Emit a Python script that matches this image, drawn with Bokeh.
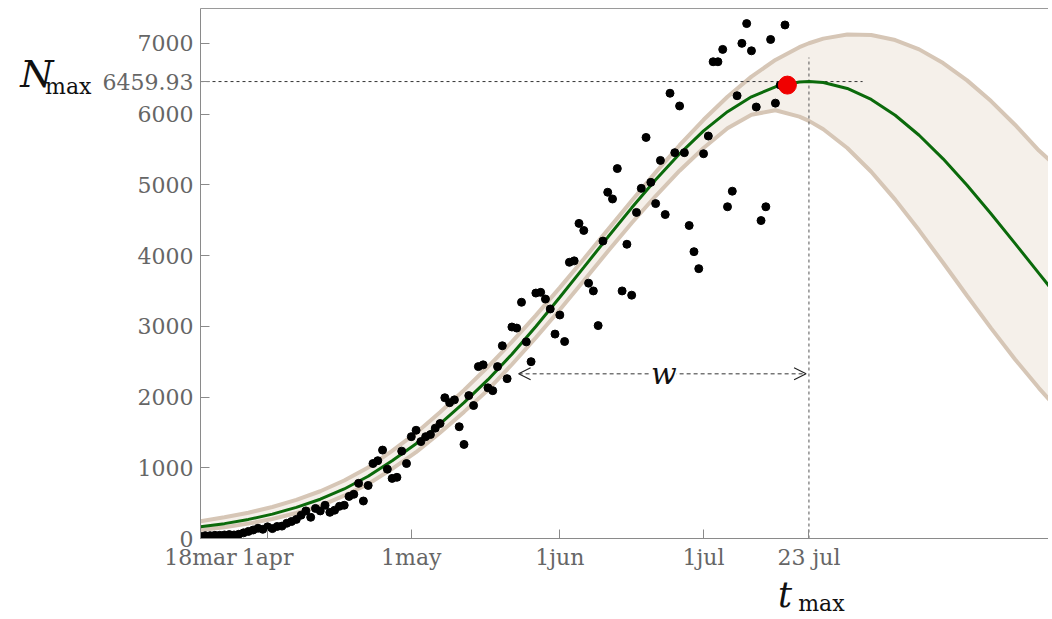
from bokeh.plotting import figure
from bokeh.models import FixedTicker, Label, Arrow, OpenHead, LinearAxis
from bokeh.embed import file_html
from bokeh.resources import INLINE

# ---------------- data ----------------
# observed daily cases, day 0 = 18 mar
obs_days = list(range(0, 123))
cases = [30, 40, 40, 45, 45, 50, 55, 50, 60, 80, 100, 120, 145, 130, 165, 140, 170, 175, 215, 240, 270, 330,
         390, 300, 425, 390, 470, 370, 400, 455, 470, 595,
         625, 780, 530, 750, 1060, 1100, 1250, 980, 850, 865,
         1235, 1060, 1440, 1530, 1370, 1440, 1470, 1560, 1625, 1990,
         1920, 1960, 1580, 1330, 2020, 1880, 2430, 2455, 2130, 2090,
         2430, 2725, 2260, 2990, 2975, 3340, 2780, 2500, 3470, 3480,
         3385, 3245, 2890, 3160, 2785, 3905, 3925, 4455, 4355, 3610,
         3500, 3010, 4205, 4895, 4800, 5230, 3500, 4160, 3440, 4610,
         4950, 5670, 5035, 4735, 5345, 4580, 6295, 5455, 6115, 5455,
         4425, 4055, 3815, 5440, 5690, 6740, 6740, 6915, 4690, 4910,
         6260, 7000, 7280, 6895, 6100, 4495, 4690, 7055, 6155, 6410,
         7260]

# fitted curve and confidence band
model_days = [0, 5, 10, 15, 20, 25, 30, 35, 40, 45, 50, 55, 60, 65, 70, 75, 80, 85, 90, 95,
              100, 105, 110, 115, 120, 125, 127, 130, 135, 140, 145, 150, 155, 160, 165, 170, 175, 178]
fit = [165, 210, 270, 345, 440, 555, 700, 880, 1100, 1340, 1620, 1920, 2245, 2605, 2998, 3410, 3833, 4258, 4675, 5072,
       5438, 5762, 6034, 6244, 6386, 6454, 6460, 6446, 6363, 6207, 5984, 5701, 5368, 4994, 4592, 4173, 3748, 3494]
upper = [245, 300, 365, 445, 545, 668, 820, 1004, 1240, 1493, 1785, 2098, 2428, 2781, 3155, 3547, 3952, 4363, 4774, 5176,
         5560, 5920, 6246, 6530, 6766, 6946, 7002, 7067, 7125, 7118, 7047, 6915, 6722, 6477, 6184, 5850, 5485, 5300]
lower = [120, 160, 210, 275, 360, 460, 605, 770, 985, 1220, 1495, 1790, 2100, 2460, 2840, 3235, 3643, 4058, 4460, 4842,
         5200, 5520, 5800, 5990, 6055, 5965, 5904, 5786, 5521, 5185, 4791, 4357, 3898, 3432, 2974, 2535, 2127, 1900]

current_day = 122.5
current_value = 6410
n_max = 6459.93
t_max = 127
nmax_line_end = 138.2
tmax_line_top = 6800
w_start = 66.4
w_level = 2328

y_ticks = [0, 1000, 2000, 3000, 4000, 5000, 6000, 7000, 6459.93]
y_tick_labels = ["0", "1000", "2000", "3000", "4000", "5000", "6000", "7000", "6459.93"]
x_ticks = [0, 14, 44, 75, 105, 127]
x_tick_labels = ["18mar", "1apr", "1may", "1jun", "1jul", "23 jul"]

# anchor positions of the N_max / t_max symbol labels
N_level, N_sub_level = 6560, 6390
t_pos, t_sub_pos = 122.0, 129.6

# ---------------- figure ----------------
p = figure(width=1048, height=618, output_backend="svg", toolbar_location=None,
           x_range=(0, 177.0), y_range=(0, 7493),
           min_border_left=200, min_border_right=0, min_border_top=8, min_border_bottom=78)
p.grid.visible = False
p.outline_line_color = None
p.background_fill_color = "white"
p.border_fill_color = "white"

AX = "#8a8a8a"
for ax in (p.xaxis, p.yaxis):
    ax.axis_line_color = AX
    ax.major_tick_line_color = AX
    ax.major_tick_in = 9
    ax.major_tick_out = 0
    ax.minor_tick_line_color = None
    ax.major_label_text_font = "DejaVu Serif"
    ax.major_label_text_font_size = "22px"
    ax.major_label_text_color = "#666666"

p.yaxis.ticker = FixedTicker(ticks=y_ticks)
p.yaxis.major_label_overrides = {t: s for t, s in zip(y_ticks, y_tick_labels)}
p.yaxis.major_label_standoff = 7
p.xaxis.ticker = FixedTicker(ticks=x_ticks)
p.xaxis.major_label_overrides = {t: s for t, s in zip(x_ticks, x_tick_labels)}
p.xaxis.major_label_standoff = 6


def symbol_axis(tick, text, size, italic, standoff):
    a = LinearAxis(ticker=FixedTicker(ticks=[tick]), major_label_overrides={tick: text})
    a.axis_line_color = None
    a.major_tick_line_color = None
    a.minor_tick_line_color = None
    a.major_label_text_font = "DejaVu Serif"
    a.major_label_text_font_size = size
    a.major_label_text_color = "#111111"
    a.major_label_text_font_style = "italic" if italic else "normal"
    a.major_label_standoff = standoff
    return a


# top frame line
top = LinearAxis(ticker=FixedTicker(ticks=[]), axis_line_color="#9a9a9a",
                 major_tick_line_color=None, minor_tick_line_color=None,
                 major_label_standoff=0)
p.add_layout(top, "above")

# N_max on the left, t_max below
p.add_layout(symbol_axis(N_sub_level, "max", "22px", False, 2), "left")
p.add_layout(symbol_axis(N_level, "N", "38px", True, -17), "left")
p.add_layout(symbol_axis(t_pos, "t", "35px", True, -4), "below")
p.add_layout(symbol_axis(t_sub_pos, "max", "22px", False, -33), "below")

# band
p.varea(x=model_days, y1=lower, y2=upper, fill_color="#f5f0ea")
p.line(model_days, upper, line_color="#d6c6b6", line_width=4)
p.line(model_days, lower, line_color="#d6c6b6", line_width=4)

# guide lines
p.line([0, nmax_line_end], [n_max, n_max], line_color="#333333", line_width=1, line_dash="3 3")
p.line([t_max, t_max], [0, tmax_line_top], line_color="#555555", line_width=1, line_dash="3 3")

# fit
p.line(model_days, fit, line_color="#0b6a0b", line_width=3)

# observations
p.scatter(obs_days, cases, size=8, color="black")

# current point
p.scatter([current_day], [current_value], size=18, color="#f00000")

# width arrow
arr = Arrow(start=OpenHead(size=12, line_color="#222222", line_width=1.2),
            end=OpenHead(size=12, line_color="#222222", line_width=1.2),
            x_start=w_start, y_start=w_level, x_end=t_max - 0.6, y_end=w_level,
            line_color="#333333", line_width=1, line_dash="4 3")
p.add_layout(arr)
p.add_layout(Label(x=(w_start + t_max) / 2, y=w_level, text="w", text_font="DejaVu Serif",
                   text_font_style="italic", text_font_size="30px", text_align="center",
                   text_baseline="middle", background_fill_color="white",
                   text_color="#111111"))

open("out.html", "w").write(file_html(p, INLINE))
